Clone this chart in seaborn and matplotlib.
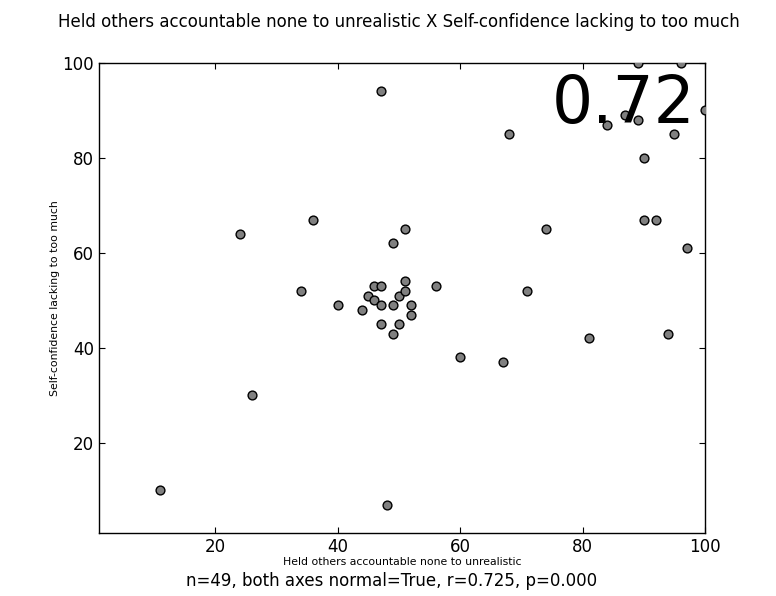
import matplotlib
matplotlib.use("Agg")
import matplotlib.pyplot as plt
import seaborn as sns
import pandas as pd

# Scores per respondent
held_accountable = [11, 24, 26, 34, 36, 40, 44, 45, 46, 46, 47, 47, 47, 47, 48,
                    49, 49, 49, 50, 50, 51, 51, 51, 52, 52, 56, 60, 67, 68, 71,
                    74, 81, 84, 87, 89, 89, 90, 90, 92, 94, 95, 96, 97, 100]
self_confidence = [10, 64, 30, 52, 67, 49, 48, 51, 53, 50, 53, 49, 45, 94, 7,
                   62, 49, 43, 51, 45, 65, 54, 52, 49, 47, 53, 38, 37, 85, 52,
                   65, 42, 87, 89, 88, 100, 80, 67, 67, 43, 85, 100, 61, 90]

x_ticks = [20, 40, 60, 80, 100]
y_ticks = [20, 40, 60, 80, 100]

x_label = "Held others accountable none to unrealistic"
y_label = "Self-confidence lacking to too much"
title = "Held others accountable none to unrealistic X Self-confidence lacking to too much"
corr_text = "0.72"
stats_text = "n=49, both axes normal=True, r=0.725, p=0.000"

df = pd.DataFrame({"x": held_accountable, "y": self_confidence})

sns.set_style("ticks")
plt.rcParams["font.family"] = ["DejaVu Sans"]
plt.rcParams["text.color"] = "black"
plt.rcParams["axes.labelcolor"] = "black"

fig = plt.figure(figsize=(7.76, 5.96), dpi=100)
fig.patch.set_facecolor("white")
ax = fig.add_axes([99 / 776, 1 - 533 / 596, (705 - 99) / 776, (533 - 63) / 596])

sns.scatterplot(data=df, x="x", y="y", ax=ax, color="#808080",
                edgecolor="black", linewidth=1.0, s=40, zorder=3)

ax.set_xlim(1, 100)
ax.set_ylim(1, 100)
ax.set_xticks(x_ticks)
ax.set_yticks(y_ticks)
ax.tick_params(direction="in", length=4, width=0.8, top=True, right=True,
               labelsize=12, colors="black", pad=3.5)
for sp in ax.spines.values():
    sp.set_visible(True)
    sp.set_color("black")
    sp.set_linewidth(1.0)

ax.set_xlabel(x_label, fontsize=7.8, labelpad=1, color="black")
ax.set_ylabel(y_label, fontsize=7.8, labelpad=2, color="black")

ax.text(0.985, 0.978, corr_text, transform=ax.transAxes, ha="right", va="top",
        fontsize=46.5, color="black", zorder=5)

fig.text(0.514, 1 - 22 / 596, title, ha="center", va="center", fontsize=12,
         color="black")
fig.text(0.505, 1 - 581 / 596, stats_text, ha="center", va="center",
         fontsize=12, color="black")

fig.savefig("out.png", dpi=100, facecolor="white")
